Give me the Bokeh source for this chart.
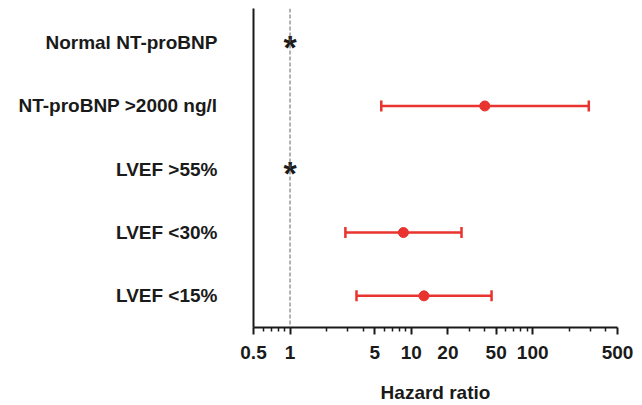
from bokeh.plotting import figure
from bokeh.models import (Range1d, FixedTicker, Span, Whisker, TeeHead,
                          ColumnDataSource)
from bokeh.core.properties import value
from bokeh.embed import file_html
from bokeh.resources import INLINE

# ---- data ----
categories = ["Normal NT-proBNP", "NT-proBNP >2000 ng/l", "LVEF >55%",
              "LVEF <30%", "LVEF <15%"]
ref_rows = [1, 3]                      # reference categories (marked with *)
hr_rows = [2, 4, 5]
hr_est = [40.3, 8.6, 12.7]
hr_low = [5.65, 2.86, 3.53]
hr_high = [290.0, 25.9, 45.8]
major_ticks = [0.5, 1, 5, 10, 20, 50, 100, 500]
minor_ticks = [0.6, 0.7, 0.8, 0.9, 2, 3, 4, 6, 7, 8, 9, 30, 40, 60, 70, 80, 90,
               200, 300, 400]

FONT = "Liberation Sans"
RED = "#e8332e"
INK = "#1a1a1a"

p = figure(width=642, height=405, x_axis_type="log",
           x_range=Range1d(0.5, 500), y_range=Range1d(5.5, 0.46),
           output_backend="svg", toolbar_location=None,
           min_border_left=253, min_border_right=25, min_border_top=8,
           min_border_bottom=78)
p.outline_line_color = None
p.grid.visible = False
p.background_fill_color = "white"

# x axis
xa = p.xaxis[0]
xa.ticker = FixedTicker(ticks=major_ticks, minor_ticks=minor_ticks)
xa.major_label_overrides = {0.5: "0.5", 1: "1", 5: "5", 10: "10", 20: "20",
                            50: "50", 100: "100", 500: "500"}
xa.axis_line_width = 2
xa.axis_line_color = INK
xa.major_tick_line_width = 2
xa.major_tick_line_color = INK
xa.minor_tick_line_width = 1.5
xa.minor_tick_line_color = INK
xa.major_tick_out = 7
xa.major_tick_in = 0
xa.minor_tick_out = 4
xa.minor_tick_in = 0
xa.major_label_text_font = FONT
xa.major_label_text_font_style = "bold"
xa.major_label_text_font_size = "19px"
xa.major_label_text_color = INK
xa.major_label_standoff = 11
xa.axis_label = "Hazard ratio"
xa.axis_label_text_font = FONT
xa.axis_label_text_font_style = "bold"
xa.axis_label_text_font_size = "19px"
xa.axis_label_text_color = INK
xa.axis_label_standoff = 20

# y axis
ya = p.yaxis[0]
ya.ticker = FixedTicker(ticks=[1, 2, 3, 4, 5])
ya.major_label_overrides = {i + 1: c for i, c in enumerate(categories)}
ya.axis_line_width = 2
ya.axis_line_color = INK
ya.major_tick_line_color = None
ya.minor_tick_line_color = None
ya.major_label_standoff = 30
ya.major_label_text_font = FONT
ya.major_label_text_font_style = "bold"
ya.major_label_text_font_size = "19px"
ya.major_label_text_color = INK

# reference line at HR = 1
p.add_layout(Span(location=1, dimension="height", line_color="#666666",
                  line_width=1, line_dash="4 2"))

# error bars
src = ColumnDataSource(dict(y=hr_rows, est=hr_est, low=hr_low, high=hr_high))
w = Whisker(source=src, base="y", lower="low", upper="high",
            dimension="width", line_color=RED, line_width=2.5,
            lower_head=TeeHead(size=11, line_color=RED, line_width=2.5),
            upper_head=TeeHead(size=11, line_color=RED, line_width=2.5))
p.add_layout(w)
p.scatter("est", "y", source=src, size=10, color=RED)

# reference category asterisks
p.text(x=[1] * len(ref_rows), y=ref_rows, text=["*"] * len(ref_rows),
       text_font=value(FONT), text_font_style="bold", text_font_size="34px",
       text_align="center", text_baseline="middle", y_offset=4,
       text_color=INK)

open("out.html", "w").write(file_html(p, INLINE))
